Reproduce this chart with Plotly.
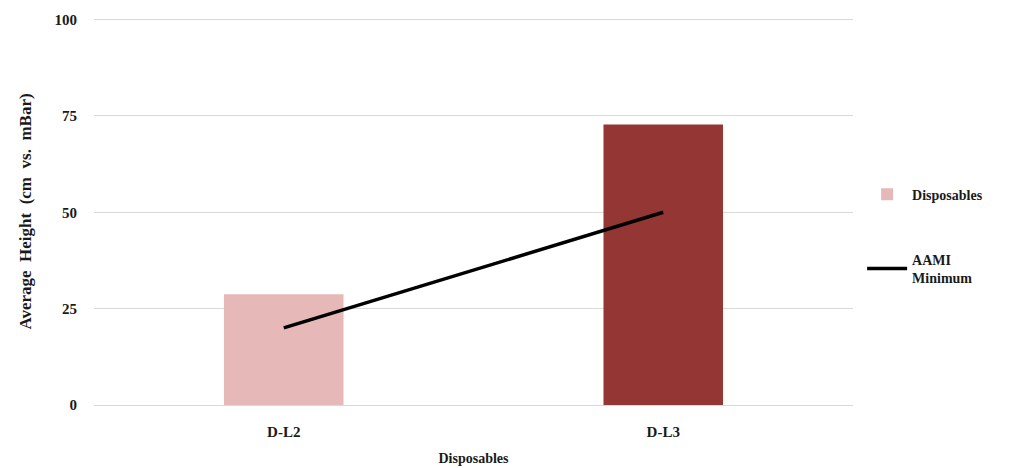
import plotly.graph_objects as go

categories = ["D-L2", "D-L3"]
disposables = [28.7, 72.8]
aami_minimum = [20, 50]
bar_colors = ["#e6b9b8", "#943634"]
y_ticks = [0, 25, 50, 75, 100]

font_family = "Liberation Serif, Times New Roman, serif"

fig = go.Figure()

fig.add_trace(go.Bar(
    x=categories,
    y=disposables,
    name="<b>Disposables</b>",
    marker=dict(color=bar_colors, line=dict(width=0)),
    width=0.315,
    legendgroup="a",
))

fig.add_trace(go.Scatter(
    x=categories,
    y=aami_minimum,
    name="<b>AAMI<br>Minimum</b>",
    mode="lines",
    line=dict(color="#000000", width=3.5),
    legendgroup="b",
))

fig.update_layout(
    width=1014,
    height=468,
    margin=dict(l=94, r=161, t=18, b=63),
    paper_bgcolor="white",
    plot_bgcolor="white",
    font=dict(family=font_family, size=14, color="#1a1a1a"),
    showlegend=True,
    legend=dict(
        x=1.012, y=0.585, xanchor="left", yanchor="top",
        font=dict(family=font_family, size=14, color="#1a1a1a"),
        tracegroupgap=44,
        itemwidth=40,
        bgcolor="rgba(0,0,0,0)",
    ),
    xaxis=dict(
        title=dict(text="<b>Disposables</b>", font=dict(size=14), standoff=14),
        tickvals=categories,
        ticktext=[f"<b>{c}</b>" for c in categories],
        tickfont=dict(size=15),
        showline=False,
        showgrid=False,
        ticks="",
        ticklabelstandoff=16,
        automargin=False,
    ),
    yaxis=dict(
        range=[0, 100.4],
        tickvals=y_ticks,
        ticktext=[f"<b>{v}</b>" for v in y_ticks],
        tickfont=dict(size=15),
        showgrid=True,
        gridcolor="#d9d9d9",
        gridwidth=1,
        zeroline=True,
        zerolinecolor="#d9d9d9",
        zerolinewidth=1,
        showline=False,
        ticks="",
        ticklabelstandoff=16,
        automargin=False,
        title=dict(text="<b>Average  Height  (cm  vs.  mBar)</b>", font=dict(size=17), standoff=18),
    ),
)

fig.write_html("out.html")
